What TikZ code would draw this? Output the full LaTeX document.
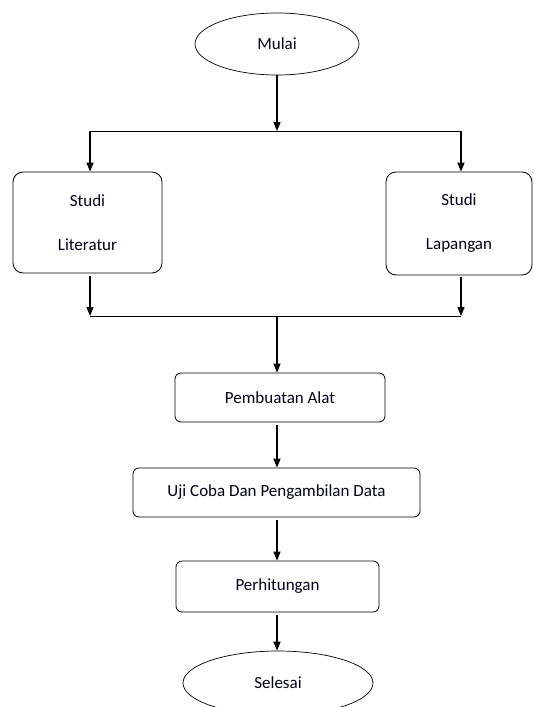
\documentclass[tikz,border=0pt]{standalone}
\usepackage{fontspec}
\setmainfont{Carlito}
\usetikzlibrary{shapes.geometric,arrows.meta}
\begin{document}
\begin{tikzpicture}[x=1pt,y=-1pt,
  txt/.style={font=\fontsize{17}{20}\selectfont, text=black!90!blue},
  term/.style={ellipse, draw, line width=0.7pt, inner sep=0pt, txt},
  procbig/.style={rectangle, rounded corners=10pt, draw, line width=0.8pt, inner sep=0pt, txt, align=center},
  proc/.style={rectangle, rounded corners=6pt, draw, line width=0.8pt, inner sep=0pt, txt},
  arr/.style={line width=1.4pt, -{Triangle[width=7pt,length=9pt]}},
  ln/.style={line width=1pt}]
\useasboundingbox (0,0) rectangle (533,707);
\clip (0,0) rectangle (533,707);
\node[term, minimum width=164pt, minimum height=62pt] (mulai) at (277,44) {Mulai};
\node[procbig, minimum width=149pt, minimum height=101pt] (lit) at (87.5,222.5) {Studi\\[24pt]Literatur};
\node[procbig, minimum width=146pt, minimum height=103pt] (lap) at (459,223.5) {Studi\\[24pt]Lapangan};
\node[proc, minimum width=210pt, minimum height=49pt] (pa) at (280,397.5) {Pembuatan Alat};
\node[proc, minimum width=287pt, minimum height=49pt] (uji) at (276.5,492.5) {Uji Coba Dan Pengambilan Data};
\node[proc, minimum width=203pt, minimum height=51pt] (per) at (277.5,586.5) {Perhitungan};
\node[term, minimum width=190pt, minimum height=64pt] (sel) at (278,683) {Selesai};
\coordinate (jt) at (277,131);
\coordinate (tl) at (90,131);
\coordinate (tr) at (461,131);
\coordinate (jb) at (277,316);
\coordinate (bl) at (90,316);
\coordinate (br) at (461,316);
\draw[arr] (mulai.south -| jt) -- (jt);
\draw[ln] (tl) -- (tr);
\draw[arr] (tl) -- (tl |- lit.north);
\draw[arr] (tr) -- (tr |- lap.north);
\draw[arr] ([yshift=-3pt]bl |- lit.south) -- (bl);
\draw[arr] ([yshift=-2pt]br |- lap.south) -- (br);
\draw[ln] (bl) -- (br);
\draw[arr] (jb) -- (jb |- pa.north);
\draw[arr] ([yshift=-3pt]jb |- pa.south) -- (jb |- uji.north);
\draw[arr] ([yshift=-3pt]jb |- uji.south) -- (jb |- per.north);
\draw[arr] ([yshift=-3pt]jb |- per.south) -- (jb |- sel.north);
\end{tikzpicture}
\end{document}
